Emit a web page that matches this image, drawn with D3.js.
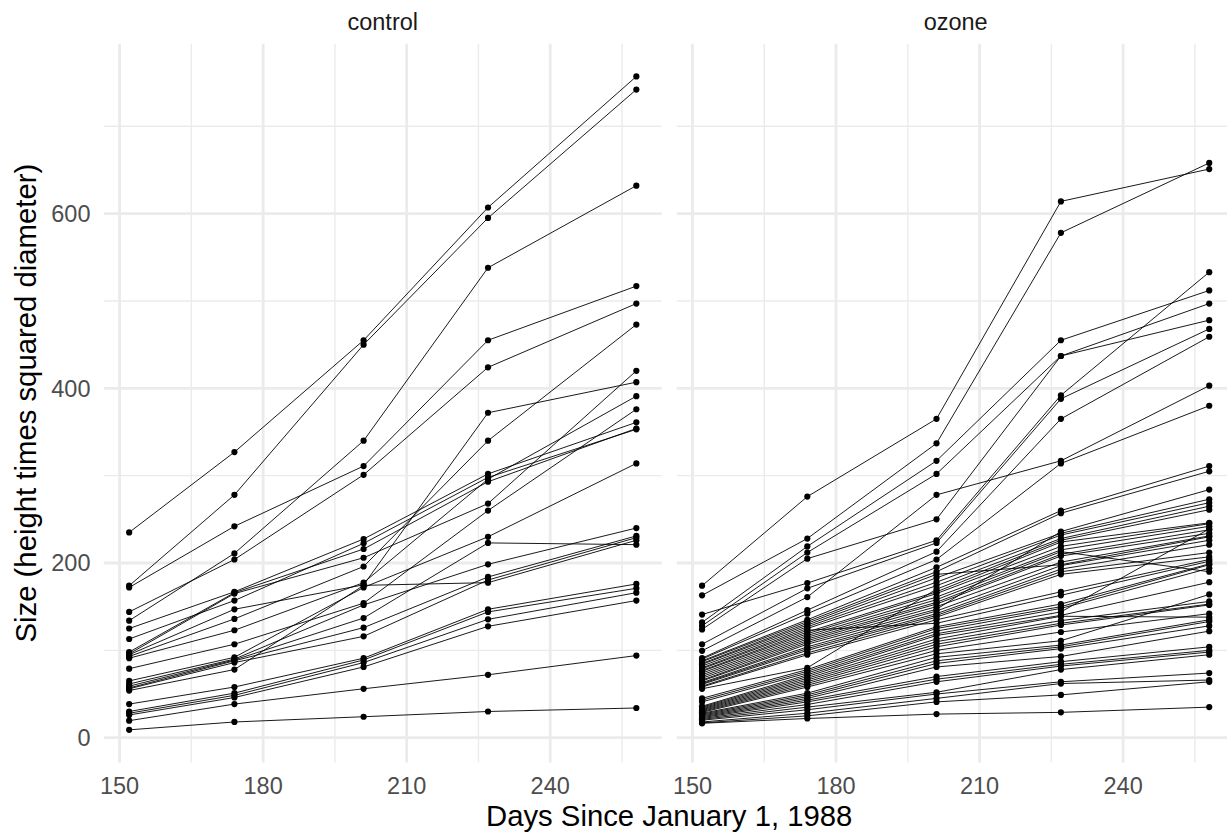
<!DOCTYPE html>
<html>
<head>
<meta charset="utf-8">
<script src="https://cdn.jsdelivr.net/npm/d3@7"></script>
<style>
body { margin: 0; background: #fff; }
svg { display: block; font-family: "Liberation Sans", Arial, sans-serif; }
</style>
</head>
<body>
<script>
// measurement days and facet names
var days = [152, 174, 201, 227, 258];
var panels = ["control", "ozone"];
var xTicks = [150, 180, 210, 240];
var xMinor = [165, 195, 225, 255];
var yTicks = [0, 200, 400, 600];
var yMinor = [100, 300, 500, 700];

// one row per tree, sizes at each day
var controlTrees = [
	[235, 327, 455, 607, 757],
	[174, 278, 450, 595, 742],
	[172, 242, 311, 455, 517],
	[134, 211, 340, 538, 632],
	[144, 204, 301, 424, 497],
	[125, 167, 227.5, 302, 361],
	[113, 157, 222.5, 298, 353],
	[98, 166, 216, 293, 354],
	[96, 165, 206, 268, 420],
	[95, 147, 175, 372, 407],
	[93, 136, 196, 340, 473],
	[91, 123, 177.5, 296, 391],
	[79, 107, 154, 260, 376],
	[65, 92, 172, 230, 314],
	[61.5, 90, 152, 198.5, 240],
	[59, 89, 137, 223, 221],
	[57, 88, 126, 184, 231],
	[56, 86, 116, 180.5, 229],
	[54, 78, 174.4, 177.5, 226],
	[38.5, 58, 91, 147, 176],
	[30, 51, 89, 144, 171],
	[28, 48.5, 86, 135.5, 166],
	[26, 46, 81, 127.5, 157],
	[19.5, 38.5, 56, 72, 94],
	[9, 18, 24, 30, 34]
];

var ozoneTrees = [
	[174, 276, 365, 614, 651],
	[163, 228, 337, 578, 658],
	[132, 219, 317, 455, 512],
	[128, 212, 302, 437, 497],
	[124, 205, 250, 437, 478],
	[141, 177, 226, 392, 533],
	[107, 171, 223, 388, 468],
	[99.5, 161, 278, 317, 403],
	[91, 146, 213, 365, 459],
	[90, 142, 204, 314, 380],
	[88, 135, 195, 260, 311],
	[87, 133, 190, 257, 305],
	[85, 131, 187, 198, 230],
	[84, 129, 183, 234, 273],
	[82, 127, 178, 232, 269],
	[80, 125, 174, 228, 265],
	[79, 123, 131, 163, 202],
	[77, 121, 167, 224, 246],
	[76, 119, 165, 219, 245],
	[74, 117, 161, 215, 242],
	[72, 115, 158, 213, 190],
	[70, 113, 155, 210, 238],
	[68, 111, 153, 208, 234],
	[66, 109, 150, 201, 231],
	[65, 107, 147, 236, 284],
	[63, 104, 145, 197, 226],
	[62, 102, 142, 193, 221],
	[61, 100, 140, 190, 212],
	[59, 97, 138, 187, 207],
	[58, 95, 135, 167, 204],
	[56, 80, 170, 226, 261],
	[45, 78, 127, 153, 199],
	[43, 76, 125, 150, 198],
	[41, 74, 122, 148, 194],
	[36, 72, 119, 144, 239],
	[35, 70, 117, 140, 178],
	[34, 68, 113, 139, 138],
	[33, 66, 110, 134, 156],
	[32, 64, 107, 131, 153],
	[31, 62, 104, 129, 152],
	[30, 60, 100, 121, 142],
	[29, 58, 96, 111, 164],
	[28, 51, 92, 106, 135],
	[27, 49, 88, 104, 133],
	[26, 47, 85, 102, 128],
	[25, 45, 81, 93, 122],
	[24, 43, 70, 87, 104],
	[23, 41, 67, 84, 100],
	[22, 38, 64, 82, 98],
	[21, 35, 52, 78, 95],
	[20, 32, 50, 64, 74],
	[18, 28, 45, 62, 66],
	[17, 25, 41, 49, 64],
	[16.5, 22, 27, 29, 35]
];

(function(){
	var W = 1227, H = 832;
	var panelLeft = 103.8, panelW = 557.9, gap = 15,
		panelTop = 43.8, panelBottom = 762.5;
	var grid = "#EBEBEB";

	var svg = d3.select("body").append("svg")
		.attr("width", W).attr("height", H);
	svg.append("rect").attr("width", W).attr("height", H).attr("fill", "#fff");

	// ggplot style 5% expansion
	var all = d3.merge(controlTrees.concat(ozoneTrees));
	var yr = d3.extent(all), ypad = (yr[1] - yr[0]) * 0.05;
	var xpad = (days[days.length - 1] - days[0]) * 0.05;

	var y = d3.scaleLinear()
		.domain([yr[0] - ypad, yr[1] + ypad])
		.range([panelBottom, panelTop]);

	var data = { control: controlTrees, ozone: ozoneTrees };

	var line = function(x) {
		return d3.line()
			.x(function(d, i) { return x(days[i]); })
			.y(function(d) { return y(d); });
	};

	panels.forEach(function(name, p) {
		var x0 = panelLeft + p * (panelW + gap);
		var x = d3.scaleLinear()
			.domain([days[0] - xpad, days[days.length - 1] + xpad])
			.range([x0, x0 + panelW]);
		var g = svg.append("g");

		// minor then major grid
		g.selectAll(".ymin").data(yMinor).enter().append("line")
			.attr("x1", x0).attr("x2", x0 + panelW)
			.attr("y1", y).attr("y2", y)
			.attr("stroke", grid).attr("stroke-width", 1.4);
		g.selectAll(".xmin").data(xMinor).enter().append("line")
			.attr("x1", x).attr("x2", x)
			.attr("y1", panelTop).attr("y2", panelBottom)
			.attr("stroke", grid).attr("stroke-width", 1.4);
		g.selectAll(".ymaj").data(yTicks).enter().append("line")
			.attr("x1", x0).attr("x2", x0 + panelW)
			.attr("y1", y).attr("y2", y)
			.attr("stroke", grid).attr("stroke-width", 2.8);
		g.selectAll(".xmaj").data(xTicks).enter().append("line")
			.attr("x1", x).attr("x2", x)
			.attr("y1", panelTop).attr("y2", panelBottom)
			.attr("stroke", grid).attr("stroke-width", 2.8);

		// tree lines
		g.selectAll(".tree").data(data[name]).enter().append("path")
			.attr("d", line(x))
			.attr("fill", "none")
			.attr("stroke", "#000")
			.attr("stroke-width", 0.9);

		// points
		data[name].forEach(function(tree) {
			g.selectAll(null).data(tree).enter().append("circle")
				.attr("cx", function(d, i) { return x(days[i]); })
				.attr("cy", y)
				.attr("r", 3.1)
				.attr("fill", "#000");
		});

		// strip label
		svg.append("text")
			.attr("x", x0 + panelW / 2).attr("y", 30)
			.attr("text-anchor", "middle")
			.attr("font-size", 23.5).attr("fill", "#1A1A1A")
			.text(name);

		// x tick labels
		svg.selectAll(null).data(xTicks).enter().append("text")
			.attr("x", x).attr("y", 794)
			.attr("text-anchor", "middle")
			.attr("font-size", 23.5).attr("fill", "#4D4D4D")
			.text(function(d) { return d; });
	});

	// y tick labels
	svg.selectAll(".ytl").data(yTicks).enter().append("text")
		.attr("x", 90.5).attr("y", y)
		.attr("dy", "0.35em")
		.attr("text-anchor", "end")
		.attr("font-size", 23.5).attr("fill", "#4D4D4D")
		.text(function(d) { return d; });

	// axis titles
	svg.append("text")
		.attr("x", panelLeft + panelW + gap / 2).attr("y", 826)
		.attr("text-anchor", "middle")
		.attr("font-size", 29.3).attr("fill", "#000")
		.text("Days Since January 1, 1988");

	svg.append("text")
		.attr("transform", "translate(36," + ((panelTop + panelBottom) / 2) + ") rotate(-90)")
		.attr("text-anchor", "middle")
		.attr("font-size", 29.3).attr("fill", "#000")
		.text("Size (height times squared diameter)");
})();
</script>
</body>
</html>
